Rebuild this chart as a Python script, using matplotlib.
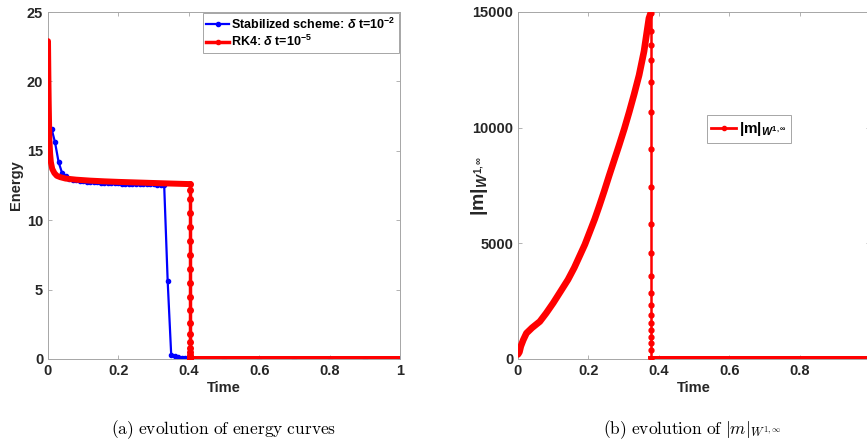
import matplotlib
matplotlib.use("Agg")
import matplotlib.pyplot as plt
from matplotlib.lines import Line2D

plt.rcParams['font.family'] = ['Liberation Sans', 'DejaVu Sans']
plt.rcParams['font.weight'] = 'bold'
plt.rcParams['mathtext.fontset'] = 'custom'
plt.rcParams['mathtext.rm'] = 'Liberation Sans:bold'
plt.rcParams['mathtext.it'] = 'Liberation Sans:italic:bold'
plt.rcParams['mathtext.bf'] = 'Liberation Sans:bold'

# --- (a) energy ---
blue_t = [0.00, 0.01, 0.02, 0.03, 0.04, 0.05, 0.06, 0.07, 0.08, 0.09,
          0.10, 0.11, 0.12, 0.13, 0.14, 0.15, 0.16, 0.17, 0.18, 0.19,
          0.20, 0.21, 0.22, 0.23, 0.24, 0.25, 0.26, 0.27, 0.28, 0.29,
          0.30, 0.31, 0.32, 0.33, 0.34, 0.35, 0.36, 0.37, 0.38, 0.39,
          0.40, 0.50, 0.60, 0.70, 0.80, 0.90, 1.00]
blue_e = [16.0, 16.6, 15.6, 14.2, 13.4, 13.15, 13.0, 12.92, 12.88, 12.84,
          12.8, 12.78, 12.76, 12.74, 12.72, 12.7, 12.69, 12.68, 12.67, 12.66,
          12.65, 12.64, 12.63, 12.62, 12.61, 12.6, 12.6, 12.59, 12.59, 12.58,
          12.58, 12.57, 12.57, 12.55, 5.6, 0.3, 0.2, 0.12, 0.08, 0.06,
          0.05, 0.03, 0.03, 0.03, 0.03, 0.03, 0.03]

red_t = [0.0, 0.001, 0.002, 0.003, 0.004, 0.006, 0.008, 0.012, 0.018, 0.025,
         0.035, 0.05, 0.08, 0.12, 0.16, 0.2, 0.25, 0.3, 0.35, 0.404]
red_e = [22.9, 20.5, 18.5, 17.0, 15.8, 14.8, 14.2, 13.7, 13.4, 13.2,
         13.1, 13.0, 12.92, 12.85, 12.8, 12.76, 12.72, 12.68, 12.64, 12.6]
red_drop_t = 0.404
red_drop_e = [12.6, 12.2, 11.5, 10.5, 9.5, 8.5, 7.5, 6.5, 5.5, 4.5,
              3.5, 2.6, 1.8, 1.2, 0.8, 0.5, 0.3, 0.15, 0.05, 0.02]
red_tail_t = [0.404, 1.0]
red_tail_e = [0.02, 0.02]

# --- (b) W1,inf norm ---
w_t = [0.000, 0.004, 0.008, 0.015, 0.024, 0.040, 0.062, 0.080, 0.100, 0.120,
       0.142, 0.160, 0.175, 0.190, 0.203, 0.218, 0.231, 0.245, 0.259, 0.273,
       0.287, 0.302, 0.316, 0.330, 0.344, 0.358, 0.372, 0.377]
w_v = [200, 300, 550, 825, 1115, 1350, 1620, 1980, 2420, 2900,
       3430, 3950, 4450, 4950, 5460, 6050, 6620, 7260, 7930, 8580,
       9230, 9950, 10680, 11450, 12270, 13300, 14730, 14950]
w_drop_t = 0.378
w_drop_v = [14950, 14160, 13580, 12930, 11980, 10680, 9085, 7420, 5825, 4590,
            3580, 2855, 2350, 1910, 1550, 1260, 970, 680, 390, 0]
w_tail_t = [0.378, 1.0]
w_tail_v = [0, 0]

W, H = 867, 445
fig = plt.figure(figsize=(W / 100, H / 100), dpi=100)
ax1 = fig.add_axes([48 / W, 1 - 359 / H, 352 / W, 347 / H])
ax2 = fig.add_axes([518 / W, 1 - 359 / H, 352 / W, 347 / H])

red = '#ff0000'
blue = '#0000ff'
thick = 4.3

ax1.plot(blue_t, blue_e, color=blue, lw=1.6, marker='.', ms=6, zorder=2)
ax1.plot(red_t, red_e, color=red, lw=thick, solid_capstyle='round', zorder=3)
ax1.plot([red_drop_t] * len(red_drop_e), red_drop_e, color=red, lw=2.5,
         marker='.', ms=8, zorder=3)
ax1.plot(red_tail_t, red_tail_e, color=red, lw=thick, solid_capstyle='round', zorder=3)

ax2.plot(w_t, w_v, color=red, lw=4.8, solid_capstyle='round', zorder=3)
ax2.plot([w_drop_t] * len(w_drop_v), w_drop_v, color=red, lw=1.8,
         marker='.', ms=7, zorder=3)
ax2.plot(w_tail_t, w_tail_v, color=red, lw=thick, zorder=3)

ax1.set_xlim(0, 1)
ax1.set_ylim(0, 25)
ax1.set_xticks([0, 0.2, 0.4, 0.6, 0.8, 1])
ax1.set_xticklabels(['0', '0.2', '0.4', '0.6', '0.8', '1'])
ax1.set_yticks([0, 5, 10, 15, 20, 25])

ax2.set_xlim(0, 1)
ax2.set_ylim(0, 15000)
ax2.set_xticks([0, 0.2, 0.4, 0.6, 0.8])
ax2.set_xticklabels(['0', '0.2', '0.4', '0.6', '0.8'])
ax2.set_yticks([0, 5000, 10000, 15000])

for ax in (ax1, ax2):
    for s in ax.spines.values():
        s.set_color('#a6a6a6')
        s.set_linewidth(0.7)
    ax.tick_params(direction='in', length=3, width=0.6, color='#a6a6a6',
                   labelsize=10.5, labelcolor='#262626', top=True, right=True)
    ax.set_xlabel('Time', fontsize=10.5, fontweight='bold', color='#262626', labelpad=2)

ax1.set_ylabel('Energy', fontsize=10.5, fontweight='bold', color='#262626')
ax1.yaxis.set_label_coords(-0.07, 0.5)
ax2.set_ylabel(r'$|\mathbf{m}|_{W^{1,\infty}}$', fontsize=14, color='#262626')
ax2.yaxis.set_label_coords(-0.08, 0.5)

h1 = Line2D([], [], color=blue, lw=1.6, marker='.', ms=6)
h2 = Line2D([], [], color=red, lw=2.5, marker='.', ms=6)
leg1 = ax1.legend([h1, h2], [r'Stabilized scheme: $\delta$ t=10$^{-2}$',
                             r'RK4: $\delta$ t=10$^{-5}$'],
                  loc='upper right', fontsize=9, fancybox=False, framealpha=1,
                  edgecolor='#a6a6a6', borderaxespad=0.05, handlelength=1.8,
                  handletextpad=0.2, borderpad=0.3, labelspacing=0.2)
leg1.get_frame().set_linewidth(0.7)

h3 = Line2D([], [], color=red, lw=2.0, marker='.', ms=6)
leg2 = ax2.legend([h3], [r'$|\mathbf{m}|_{W^{1,\infty}}$'], loc='center',
                  bbox_to_anchor=(0.656, 0.663), fontsize=11, fancybox=False,
                  framealpha=1, edgecolor='#a6a6a6', handlelength=1.6,
                  handletextpad=0.2, borderpad=0.3)
leg2.get_frame().set_linewidth(0.7)

fig.text(224 / W, 1 - 430 / H, r'$\mathrm{(a)\ evolution\ of\ energy\ curves}$',
         ha='center', va='center', fontsize=12.5, math_fontfamily='cm')
fig.text(692 / W, 1 - 430 / H, r'$\mathrm{(b)\ evolution\ of\ }|m|_{W^{1,\infty}}$',
         ha='center', va='center', fontsize=12.5, math_fontfamily='cm')

fig.savefig('out.png', dpi=100)
